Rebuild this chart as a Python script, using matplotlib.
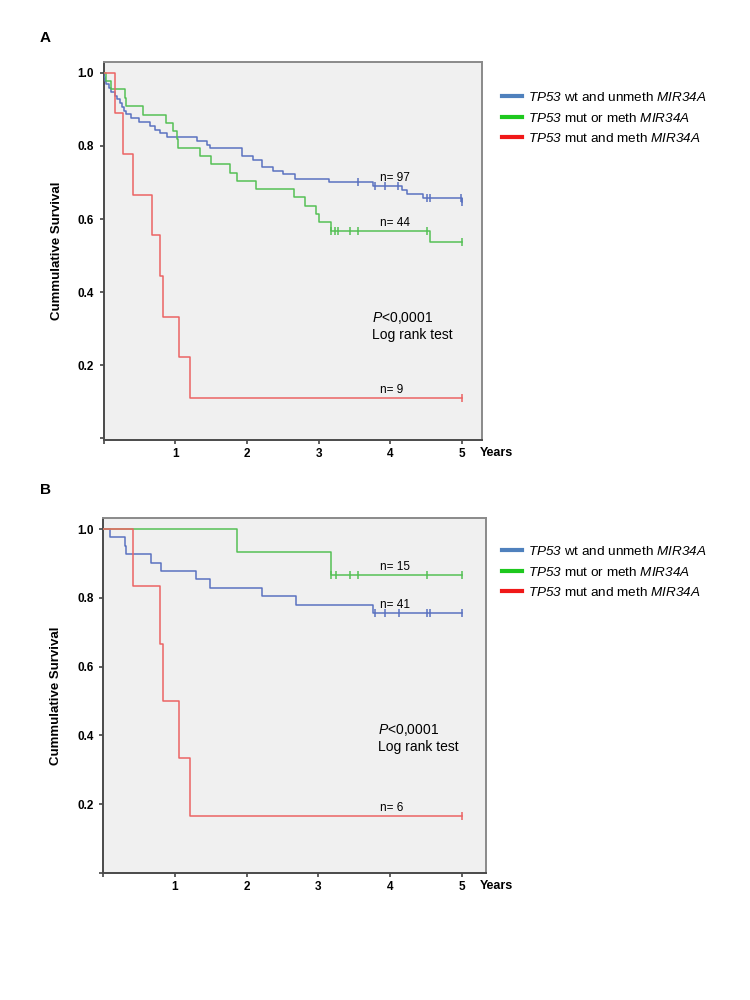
import numpy as np
import matplotlib.pyplot as plt
from matplotlib.lines import Line2D

plt.rcParams['font.family'] = ['Liberation Sans', 'DejaVu Sans']
# mathtext is only used for the italic gene names, so its roman font is the italic face
plt.rcParams['mathtext.fontset'] = 'custom'
plt.rcParams['mathtext.rm'] = 'Liberation Sans:italic'
plt.rcParams['mathtext.it'] = 'Liberation Sans:italic'

# Panel A - event times (years) and survival after each event
a_blue_t = [0.01, 0.02, 0.04, 0.07, 0.10, 0.16, 0.19, 0.23, 0.26, 0.28, 0.32, 0.39, 0.50,
            0.65, 0.72, 0.79, 0.88, 1.30, 1.44, 1.49, 1.93, 2.09, 2.21, 2.37, 2.51, 2.67,
            3.15, 3.76, 4.16, 4.23, 4.46, 5.00]
a_blue_s = [0.990, 0.979, 0.969, 0.959, 0.948, 0.938, 0.928, 0.918, 0.907, 0.897, 0.887, 0.876, 0.866,
            0.856, 0.845, 0.835, 0.825, 0.814, 0.804, 0.794, 0.773, 0.763, 0.742, 0.732, 0.722, 0.711,
            0.701, 0.690, 0.679, 0.668, 0.657, 0.647]
a_blue_c = [3.55, 3.79, 3.93, 4.11, 4.51, 4.55, 4.99, 5.00]

a_green_t = [0.03, 0.10, 0.30, 0.31, 0.55, 0.87, 0.97, 1.03, 1.04, 1.34, 1.50, 1.77, 1.86,
             2.13, 2.66, 2.81, 2.96, 3.00, 3.18, 4.55]
a_green_s = [0.977, 0.955, 0.932, 0.909, 0.886, 0.864, 0.841, 0.818, 0.795, 0.773, 0.750, 0.727, 0.705,
             0.682, 0.659, 0.636, 0.614, 0.591, 0.568, 0.536]
a_green_c = [3.18, 3.23, 3.27, 3.44, 3.55, 4.51, 5.00]

a_red_t = [0.16, 0.27, 0.41, 0.67, 0.79, 0.83, 1.05, 1.21]
a_red_s = [0.889, 0.778, 0.667, 0.556, 0.444, 0.333, 0.222, 0.111]
a_red_c = [5.00]

# Panel B
b_blue_t = [0.09, 0.30, 0.32, 0.67, 0.80, 1.29, 1.49, 2.21, 2.69, 3.77]
b_blue_s = [0.976, 0.951, 0.927, 0.902, 0.878, 0.854, 0.829, 0.805, 0.780, 0.756]
b_blue_c = [3.79, 3.93, 4.12, 4.51, 4.56, 5.00]

b_green_t = [1.87, 3.18]
b_green_s = [0.933, 0.867]
b_green_c = [3.18, 3.25, 3.44, 3.55, 4.51, 5.00]

b_red_t = [0.42, 0.79, 0.84, 1.06, 1.21]
b_red_s = [0.833, 0.667, 0.500, 0.333, 0.167]
b_red_c = [5.00]

a_n = ['n= 97', 'n= 44', 'n= 9']
b_n = ['n= 41', 'n= 15', 'n= 6']

legend_labels = [r'$\mathrm{TP53}$ wt and unmeth $\mathrm{MIR34A}$',
                 r'$\mathrm{TP53}$ mut or meth $\mathrm{MIR34A}$',
                 r'$\mathrm{TP53}$ mut and meth $\mathrm{MIR34A}$']

line_cols = ['#5a72c0', '#55c055', '#ec6464']
leg_cols = ['#4f81bd', '#1ec81e', '#f01818']
t_end = 5.0
n_x = 3.86


def km(ax, times, surv, cens, col, label):
    x = np.r_[0.0, times, t_end]
    y = np.r_[1.0, surv, surv[-1]]
    ax.plot(x, y, drawstyle='steps-post', color=col, lw=1.1, zorder=3)
    steps = np.r_[1.0, surv]
    idx = np.searchsorted(times, cens, side='right')
    ax.plot(cens, steps[idx], ls='none', marker='|', ms=6, mew=1.1, color=col, zorder=4)
    yl = steps[np.searchsorted(times, n_x, side='right')]
    ax.text(n_x, yl + 0.013, label, fontsize=8.5, va='baseline', ha='left')


def style(ax, xmax, ymin, ymax):
    ax.set_facecolor('#f0f0f0')
    ax.set_xlim(0, xmax)
    ax.set_ylim(ymin, ymax)
    ax.set_xticks([0, 1, 2, 3, 4, 5])
    ax.set_xticklabels(['', '1', '2', '3', '4', '5'])
    ax.set_yticks([0, 0.2, 0.4, 0.6, 0.8, 1.0])
    ax.set_yticklabels(['', '0.2', '0.4', '0.6', '0.8', '1.0'])
    for lab in ax.get_xticklabels() + ax.get_yticklabels():
        lab.set_fontweight('bold')
        lab.set_fontsize(8.5)
    ax.tick_params(direction='out', length=3, width=1.2, color='#444444', pad=4)
    ax.tick_params(axis='x', pad=3)
    for s in ['left', 'bottom']:
        ax.spines[s].set_color('#4a4a4a')
        ax.spines[s].set_linewidth(1.4)
    for s in ['top', 'right']:
        ax.spines[s].set_color('#8a8a8a')
        ax.spines[s].set_linewidth(1.4)


fig = plt.figure(figsize=(7.5, 10), dpi=100)

axA = fig.add_axes([103.5 / 750, 0.560, (482 - 103.5) / 750, 0.378])
axB = fig.add_axes([103.3 / 750, 0.127, (486 - 103.3) / 750, 0.355])

style(axA, 5.28, -0.005, 1.03)
style(axB, 5.34, 0.0, 1.032)

km(axA, a_blue_t, a_blue_s, a_blue_c, line_cols[0], a_n[0])
km(axA, a_green_t, a_green_s, a_green_c, line_cols[1], a_n[1])
km(axA, a_red_t, a_red_s, a_red_c, line_cols[2], a_n[2])

km(axB, b_blue_t, b_blue_s, b_blue_c, line_cols[0], b_n[0])
km(axB, b_green_t, b_green_s, b_green_c, line_cols[1], b_n[1])
km(axB, b_red_t, b_red_s, b_red_c, line_cols[2], b_n[2])

axA.text(3.75, 0.33, r'$\mathrm{P}$<0,0001', fontsize=10, va='center')
axA.text(3.75, 0.283, 'Log rank test', fontsize=10, va='center')
axB.text(3.83, 0.416, r'$\mathrm{P}$<0,0001', fontsize=10, va='center')
axB.text(3.83, 0.366, 'Log rank test', fontsize=10, va='center')

for ax, ypix in [(axA, 453), (axB, 886)]:
    ax.set_ylabel('Cummulative Survival', fontsize=9.5, fontweight='bold')
    ax.yaxis.set_label_coords(-0.108, 0.5)
    fig.text(480 / 750, 1 - ypix / 1000, 'Years', fontsize=9, fontweight='bold', va='center')

fig.text(40 / 750, 1 - 38 / 1000, 'A', fontsize=11, fontweight='bold', va='center')
fig.text(40 / 750, 1 - 490 / 1000, 'B', fontsize=11, fontweight='bold', va='center')

handles = [Line2D([], [], color=c, lw=3) for c in leg_cols]
for top in [79, 533]:
    fig.legend(handles, legend_labels, loc='upper left', frameon=False,
               bbox_to_anchor=(490 / 750, 1 - top / 1000), fontsize=9.7,
               handlelength=1.5, handletextpad=0.45, labelspacing=0.55)

fig.savefig('out.png', dpi=100)
